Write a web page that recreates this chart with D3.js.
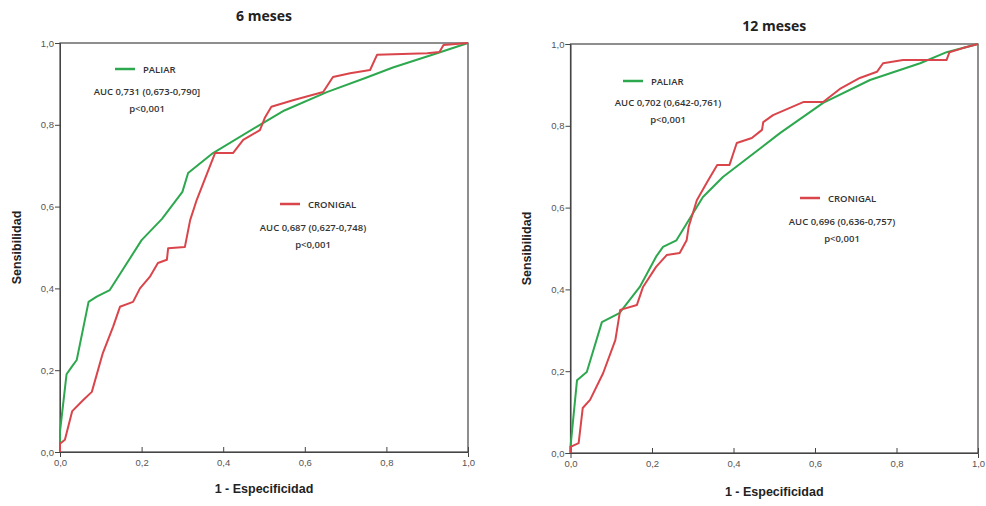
<!DOCTYPE html>
<html>
<head>
<meta charset="utf-8">
<script src="https://cdn.jsdelivr.net/npm/d3@7"></script>
<style>
  body { margin: 0; background: #fff; }
  .tick text { font-family: "Liberation Sans", Arial, sans-serif; font-size: 9.5px; fill: #555; }
  .tick line, .domain { stroke: #444; }
</style>
</head>
<body>
<svg id="chart" width="986" height="506"></svg>
<script>
// ROC points [1 - especificidad, sensibilidad]
const paliar6 = [[0,0],[0,0.05],[0.016,0.19],[0.03,0.21],[0.041,0.225],[0.07,0.367],[0.09,0.38],[0.122,0.396],
  [0.2,0.518],[0.25,0.57],[0.3,0.636],[0.314,0.682],[0.375,0.731],[0.49,0.8],[0.55,0.835],[0.654,0.88],
  [0.75,0.915],[0.816,0.94],[0.924,0.975],[1,1]];
const cronigal6 = [[0,0],[0,0.02],[0.012,0.03],[0.03,0.1],[0.057,0.127],[0.078,0.147],[0.105,0.242],[0.13,0.306],
  [0.147,0.355],[0.179,0.367],[0.196,0.4],[0.22,0.428],[0.24,0.462],[0.262,0.47],[0.265,0.498],[0.306,0.501],
  [0.319,0.567],[0.335,0.616],[0.351,0.657],[0.38,0.731],[0.424,0.731],[0.449,0.763],[0.49,0.787],[0.502,0.817],
  [0.518,0.844],[0.571,0.86],[0.645,0.88],[0.669,0.917],[0.711,0.926],[0.76,0.934],[0.777,0.971],[0.9,0.975],
  [0.93,0.978],[0.94,0.995],[1,1]];
const paliar12 = [[0,0],[0,0.015],[0.016,0.178],[0.04,0.198],[0.077,0.32],[0.12,0.342],[0.17,0.406],[0.21,0.48],
  [0.227,0.504],[0.26,0.52],[0.325,0.626],[0.374,0.675],[0.514,0.782],[0.62,0.856],[0.735,0.912],[0.858,0.953],
  [0.923,0.98],[1,1]];
const cronigal12 = [[0,0],[0,0.015],[0.02,0.024],[0.03,0.11],[0.048,0.13],[0.08,0.195],[0.11,0.276],[0.122,0.35],
  [0.163,0.362],[0.178,0.406],[0.21,0.455],[0.236,0.484],[0.268,0.489],[0.285,0.52],[0.29,0.553],[0.31,0.618],
  [0.334,0.66],[0.36,0.704],[0.39,0.704],[0.408,0.758],[0.445,0.77],[0.47,0.79],[0.473,0.809],[0.497,0.826],
  [0.571,0.858],[0.62,0.858],[0.661,0.89],[0.71,0.917],[0.752,0.932],[0.767,0.953],[0.816,0.961],[0.923,0.961],
  [0.93,0.98],[0.963,0.99],[1,1]];

const titles = ["6 meses", "12 meses"];
const seriesNames = ["PALIAR", "CRONIGAL"];
const aucText6 = ["AUC 0,731 (0,673-0,790]", "AUC 0,687 (0,627-0,748)"];
const aucText12 = ["AUC 0,702 (0,642-0,761)", "AUC 0,696 (0,636-0,757)"];
const pText = "p<0,001";
const tickValues = [0, 0.2, 0.4, 0.6, 0.8, 1.0];

const colors = ["#2da84e", "#d9454b"];
const fmt = d => d3.format(".1f")(d).replace(".", ",");

const panels = [
  { x0: 60, x1: 468, y0: 452, y1: 43, titleY: 21, xLabY: 493, yLabX: 21,
    series: [paliar6, cronigal6], auc: aucText6,
    legend: [{ lx: 115, ly: 69, cx: 147, ay: 95 }, { lx: 280, ly: 204, cx: 313, ay: 231 }] },
  { x0: 570.5, x1: 978, y0: 453, y1: 44, titleY: 31, xLabY: 496, yLabX: 531,
    series: [paliar12, cronigal12], auc: aucText12,
    legend: [{ lx: 623, ly: 81, cx: 668, ay: 106 }, { lx: 800, ly: 198, cx: 842, ay: 225 }] }
];

const svg = d3.select("#chart");

panels.forEach((p, pi) => {
  const x = d3.scaleLinear().domain([0, 1]).range([p.x0, p.x1]);
  const y = d3.scaleLinear().domain([0, 1]).range([p.y0, p.y1]);
  const g = svg.append("g");

  // frame
  g.append("rect")
    .attr("x", p.x0).attr("y", p.y1)
    .attr("width", p.x1 - p.x0).attr("height", p.y0 - p.y1)
    .attr("fill", "none").attr("stroke", "#444").attr("stroke-width", 1.2);

  g.append("g")
    .attr("transform", "translate(0," + p.y0 + ")")
    .call(d3.axisBottom(x).tickValues(tickValues).tickFormat(fmt).tickSize(5).tickPadding(2))
    .call(s => s.selectAll(".tick line").attr("transform", "translate(0,-5)"));

  g.append("g")
    .attr("transform", "translate(" + p.x0 + ",0)")
    .call(d3.axisLeft(y).tickValues(tickValues).tickFormat(fmt).tickSize(5).tickPadding(1));

  const line = d3.line().x(d => x(d[0])).y(d => y(d[1]));
  p.series.forEach((s, si) => {
    g.append("path")
      .datum(s)
      .attr("d", line)
      .attr("fill", "none")
      .attr("stroke", colors[si])
      .attr("stroke-width", 2)
      .attr("stroke-linejoin", "round");
  });

  // legends + AUC annotations
  p.legend.forEach((l, li) => {
    g.append("line")
      .attr("x1", l.lx).attr("x2", l.lx + 20)
      .attr("y1", l.ly).attr("y2", l.ly)
      .attr("stroke", colors[li]).attr("stroke-width", 2.5);
    g.append("text")
      .attr("x", l.lx + 28).attr("y", l.ly + 3.5)
      .attr("font-family", "'Open Sans', sans-serif").attr("font-size", 9.5)
      .attr("font-weight", 600).attr("fill", "#333")
      .text(seriesNames[li]);
    g.append("text")
      .attr("x", l.cx).attr("y", l.ay)
      .attr("text-anchor", "middle")
      .attr("font-family", "'Open Sans', sans-serif").attr("font-size", 9.5)
      .attr("font-weight", 600).attr("fill", "#333")
      .text(p.auc[li]);
    g.append("text")
      .attr("x", l.cx).attr("y", l.ay + 17)
      .attr("text-anchor", "middle")
      .attr("font-family", "'Open Sans', sans-serif").attr("font-size", 9.5)
      .attr("font-weight", 600).attr("fill", "#333")
      .text(pText);
  });

  g.append("text")
    .attr("x", (p.x0 + p.x1) / 2).attr("y", p.titleY)
    .attr("text-anchor", "middle")
    .attr("font-family", "'Open Sans', sans-serif").attr("font-size", 14)
    .attr("font-weight", 700).attr("fill", "#222")
    .text(titles[pi]);

  g.append("text")
    .attr("x", (p.x0 + p.x1) / 2).attr("y", p.xLabY)
    .attr("text-anchor", "middle")
    .attr("font-family", "'Liberation Sans', Arial, sans-serif").attr("font-size", 12.5)
    .attr("font-weight", 700).attr("fill", "#222")
    .text("1 - Especificidad");

  g.append("text")
    .attr("transform", "translate(" + p.yLabX + "," + (p.y0 + p.y1) / 2 + ") rotate(-90)")
    .attr("text-anchor", "middle")
    .attr("font-family", "'Liberation Sans', Arial, sans-serif").attr("font-size", 12.5)
    .attr("font-weight", 700).attr("fill", "#222")
    .text("Sensibilidad");
});
</script>
</body>
</html>
